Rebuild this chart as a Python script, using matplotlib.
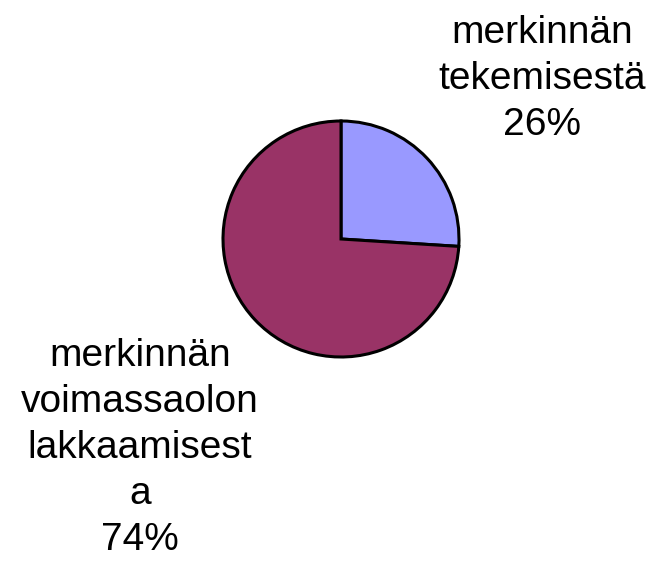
import matplotlib.pyplot as plt

labels = ["merkinnän\ntekemisestä", "merkinnän\nvoimassaolon\nlakkaamisest\na"]
values = [26, 74]
colors = ["#9999FF", "#993366"]

plt.rcParams["font.family"] = ["Liberation Sans", "DejaVu Sans"]

W, H = 653, 565
fig = plt.figure(figsize=(W / 100, H / 100), dpi=100)
ax = fig.add_axes([0, 0, 1, 1])

ax.pie(values, colors=colors, startangle=90, counterclock=False,
       center=(341, H - 239), radius=118, frame=True,
       wedgeprops=dict(edgecolor="black", linewidth=2.2))
ax.set_xlim(0, W)
ax.set_ylim(0, H)
ax.set_aspect("equal")
ax.axis("off")

# slice labels with percentages
total = sum(values)
label_pos = [(542, 79), (140, 448)]
for lab, v, (x, y) in zip(labels, values, label_pos):
    ax.text(x, H - y, f"{lab}\n{round(100 * v / total)}%", ha="center", va="center",
            fontsize=28, linespacing=1.36)

fig.savefig("out.png", dpi=100)
